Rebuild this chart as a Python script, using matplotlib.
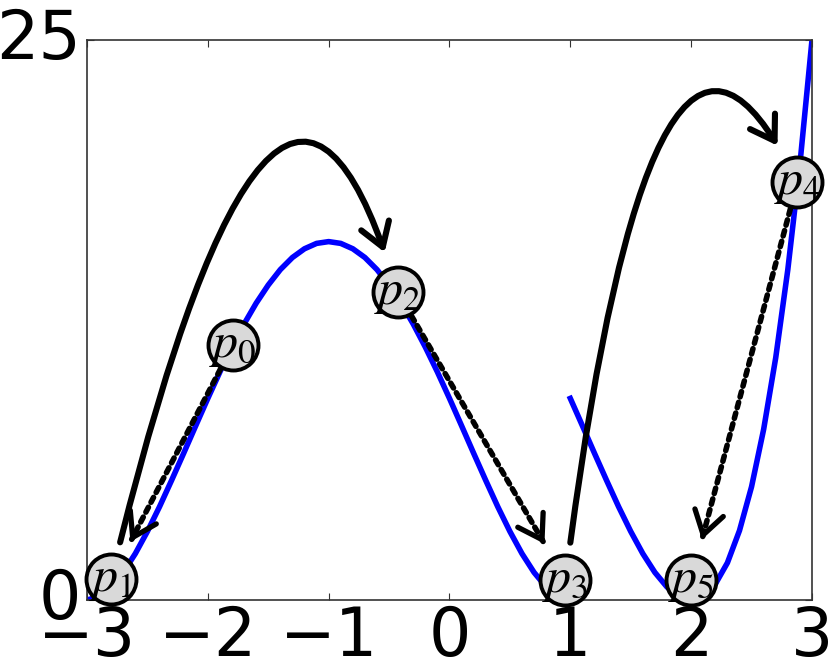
import numpy as np
import matplotlib
matplotlib.use('Agg')
import matplotlib.pyplot as plt

plt.rcParams['mathtext.fontset'] = 'stix'

# curva azul, dos tramos
x_left = np.linspace(-3.0, 1.0, 41)
y_left = [0, 0.15, 0.58, 1.23, 2.07, 3.06, 4.16, 5.34, 6.55, 7.78, 9.0,
          10.18, 11.29, 12.32, 13.25, 14.06, 14.75, 15.29, 15.68, 15.92, 16.0,
          15.92, 15.68, 15.29, 14.75, 14.06, 13.25, 12.32, 11.29, 10.18, 9.0,
          7.78, 6.55, 5.34, 4.16, 3.06, 2.07, 1.23, 0.58, 0.15, 0]
x_right = np.linspace(1.0, 3.0, 21)
y_right = [9.0, 7.78, 6.55, 5.34, 4.16, 3.06, 2.07, 1.23, 0.58, 0.15, 0,
           0.17, 0.71, 1.66, 3.10, 5.06, 7.62, 10.82, 14.75, 19.45, 25.0]

# puntos p0..p5
pts_x = [-1.79, -2.80, -0.43, 0.96, 2.88, 2.00]
pts_y = [11.4, 0.95, 13.75, 0.9, 18.65, 0.9]
pts_lbl = ['$p_0$', '$p_1$', '$p_2$', '$p_3$', '$p_4$', '$p_5$']

# flechas: (desde, hasta, estilo de conexion)
solid_arrows = [(1, 2, 'angle3,angleA=76.4,angleB=-73.4'),
                (3, 4, 'angle3,angleA=82.8,angleB=-64.0')]
dotted_arrows = [(0, 1), (2, 3), (4, 5)]

xticks = [-3, -2, -1, 0, 1, 2, 3]
yticks = [0, 25]

HEAD = '->,head_length=0.75,head_width=0.48'

fig = plt.figure(figsize=(8.3, 6.68), dpi=100)
ax = fig.add_axes([0.1048, 0.1018, 0.8735, 0.8383])
ax.set_xlim(-3, 3)
ax.set_ylim(0, 25)

ax.plot(x_left, y_left, color='#0000ff', lw=4.0, zorder=2)
ax.plot(x_right, y_right, color='#0000ff', lw=4.0, zorder=2)

for i, j, cs in solid_arrows:
    ax.annotate('', xy=(pts_x[j], pts_y[j]), xytext=(pts_x[i], pts_y[i]),
                arrowprops=dict(arrowstyle=HEAD, color='k', lw=4.4,
                                connectionstyle=cs, shrinkA=27, shrinkB=30,
                                mutation_scale=22), zorder=3)

# flechas punteadas: cuerpo punteado + punta solida
for i, j in dotted_arrows:
    a = np.array([pts_x[i], pts_y[i]])
    b = np.array([pts_x[j], pts_y[j]])
    ax.annotate('', xy=b, xytext=a,
                arrowprops=dict(arrowstyle='-', color='k', lw=4.0,
                                ls=(0, (1, 1.0)),
                                shrinkA=20, shrinkB=32), zorder=3)
    pa = ax.transData.transform(a)
    pb = ax.transData.transform(b)
    L = np.hypot(*(pb - pa)) * 72 / fig.dpi
    ax.annotate('', xy=b, xytext=a,
                arrowprops=dict(arrowstyle=HEAD, color='k', lw=3.8,
                                shrinkA=L - 35, shrinkB=30,
                                mutation_scale=22), zorder=3)

ax.plot(pts_x, pts_y, 'o', ms=36, mfc='#d9d9d9', mec='k', mew=2.8,
        zorder=4, clip_on=False)
for x, y, s in zip(pts_x, pts_y, pts_lbl):
    ax.text(x, y, s, fontsize=36, ha='center', va='center', zorder=5)

ax.set_xticks(xticks)
ax.set_yticks(yticks)
ax.tick_params(direction='in', length=5, top=True, right=True,
               labelsize=48, color='#333333')
ax.tick_params(axis='x', pad=3)
ax.tick_params(axis='y', pad=4)
for lbl in ax.get_yticklabels():
    lbl.set_verticalalignment('center')
for sp in ax.spines.values():
    sp.set_color('#333333')
    sp.set_linewidth(1.2)

fig.savefig('out.png', dpi=100)
